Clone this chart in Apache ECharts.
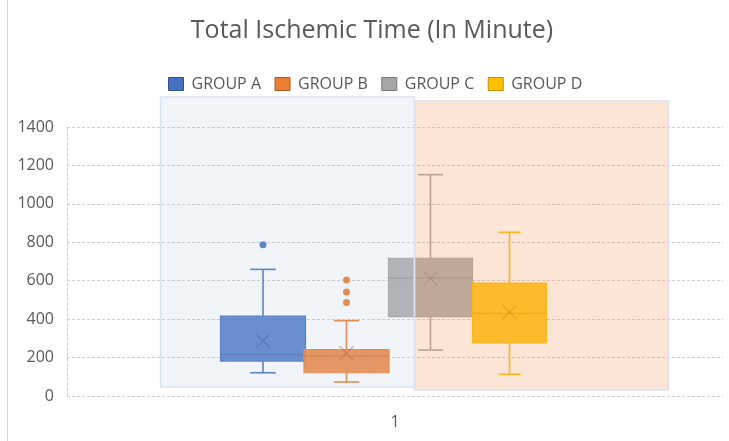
<!DOCTYPE html>
<html><head><meta charset="utf-8">
<script src="https://cdn.jsdelivr.net/npm/echarts@6/dist/echarts.min.js"></script>
<style>html,body{margin:0;padding:0;background:#fff}#chart{width:729px;height:441px}</style>
</head><body><div id="chart"></div>
<script>
// ---- data ----
const categories = ['1'];
const groupNames = ['GROUP A', 'GROUP B', 'GROUP C', 'GROUP D'];
// [lower whisker, Q1, median, Q3, upper whisker]
const groupA = [121, 182, 215, 416, 659];
const groupB = [73, 121, 208, 241, 392];
const groupC = [239, 413, 614, 717, 1152];
const groupD = [113, 277, 430, 588, 852];
const meanValues = [288, 224, 612, 436];
const outliersA = [787];
const outliersB = [486, 541, 604];
const outliersC = [];
const outliersD = [];
const yTicks = [0, 200, 400, 600, 800, 1000, 1200, 1400];

// ---- styles / layout ----
const seriesColors = ['#4472C4', '#ED7D31', '#A5A5A5', '#FFC000'];
const legendBorders = ['#2F528F', '#AE5A21', '#787878', '#BC8C00'];
const slotOffset = [-132, -48.5, 35.5, 114.5];
const slotWidth = [85, 85, 84, 74];
const textColor = '#595959';
const fontFamily = '"Open Sans", "Noto Sans", sans-serif';

const groups = [groupA, groupB, groupC, groupD];
const outliers = [outliersA, outliersB, outliersC, outliersD];

function renderBox(idx) {
  return function (params, api) {
    const color = seriesColors[idx];
    const dark = legendBorders[idx];
    const cat = api.value(0);
    const cx = api.coord([cat, 0])[0] + slotOffset[idx];
    const w = slotWidth[idx];
    const capW = w * 0.3;
    const Y = v => api.coord([cat, v])[1];
    const lo = Y(api.value(1)), q1 = Y(api.value(2)), md = Y(api.value(3)),
          q3 = Y(api.value(4)), hi = Y(api.value(5)), mean = Y(api.value(6));
    const ls = { stroke: color, lineWidth: 1.6, fill: null };
    const ms = { stroke: dark, strokeOpacity: 0.45, lineWidth: 1.5 };
    const xs = 7;
    const children = [
      { type: 'line', shape: { x1: cx, y1: hi, x2: cx, y2: q3 }, style: ls },
      { type: 'line', shape: { x1: cx, y1: q1, x2: cx, y2: lo }, style: ls },
      { type: 'line', shape: { x1: cx - capW / 2, y1: hi, x2: cx + capW / 2, y2: hi }, style: ls },
      { type: 'line', shape: { x1: cx - capW / 2, y1: lo, x2: cx + capW / 2, y2: lo }, style: ls },
      { type: 'rect', shape: { x: cx - w / 2, y: q3, width: w, height: q1 - q3 },
        style: { fill: color, fillOpacity: 0.9, stroke: color, lineWidth: 1.2 } },
      { type: 'line', shape: { x1: cx - w / 2, y1: md, x2: cx + w / 2, y2: md }, style: { stroke: dark, strokeOpacity: 0.35, lineWidth: 1.4 } },
      { type: 'line', shape: { x1: cx - xs, y1: mean - xs, x2: cx + xs, y2: mean + xs }, style: ms },
      { type: 'line', shape: { x1: cx - xs, y1: mean + xs, x2: cx + xs, y2: mean - xs }, style: ms }
    ];
    outliers[idx].forEach(v => {
      children.push({ type: 'circle', shape: { cx: cx, cy: Y(v), r: 3.5 }, style: { fill: color, stroke: null } });
    });
    return { type: 'group', children: children };
  };
}

const chart = echarts.init(document.getElementById('chart'), null, { renderer: 'canvas' });
chart.setOption({
  animation: false,
  backgroundColor: '#ffffff',
  title: {
    text: 'Total Ischemic Time (In Minute)',
    left: 367, top: 13, textAlign: 'center',
    textStyle: { color: textColor, fontSize: 25, fontWeight: 'normal', fontFamily: fontFamily }
  },
  legend: {
    left: 168, top: 76, padding: 0,
    itemWidth: 15, itemHeight: 13, itemGap: 13.5,
    icon: 'rect',
    textStyle: { color: textColor, fontSize: 16, fontFamily: fontFamily, padding: [0, 0, 0, 3] },
    data: groupNames.map((n, i) => ({ name: n, itemStyle: { color: seriesColors[i], borderColor: legendBorders[i], borderWidth: 1 } }))
  },
  grid: { left: 67, right: 6, top: 127, bottom: 45, containLabel: false, outerBoundsMode: 'none' },
  xAxis: {
    type: 'category', data: categories,
    axisLine: { show: false }, axisTick: { show: false },
    axisLabel: { color: textColor, fontSize: 16, fontFamily: fontFamily, margin: 18 },
    splitLine: { show: false }
  },
  yAxis: {
    type: 'value', min: yTicks[0], max: yTicks[yTicks.length - 1], interval: yTicks[1] - yTicks[0],
    axisLine: { show: true, lineStyle: { color: '#d0d0d0', type: [3, 2], width: 1 } },
    axisTick: { show: false },
    axisLabel: { color: textColor, fontSize: 16, fontFamily: fontFamily, margin: 13, formatter: v => String(v) },
    splitLine: { show: true, lineStyle: { color: '#cccccc', type: [3, 2], width: 1 } }
  },
  series: groups.map((g, i) => ({
    name: groupNames[i],
    type: 'custom',
    renderItem: renderBox(i),
    itemStyle: { color: seriesColors[i], borderColor: legendBorders[i], borderWidth: 1 },
    encode: { x: 0, y: [1, 2, 3, 4, 5, 6] },
    data: [[0].concat(g, [meanValues[i]])],
    z: 2
  })),
  graphic: [
    { type: 'line', shape: { x1: 7.5, y1: 0, x2: 7.5, y2: 441 }, style: { stroke: '#d9d9d9', lineWidth: 1 }, z: 100 },
    { type: 'rect', shape: { x: 160.5, y: 97, width: 254, height: 290 },
      style: { fill: 'rgba(187,203,229,0.2)', stroke: '#dae3f3', lineWidth: 1.5 }, z: 100 },
    { type: 'rect', shape: { x: 414.5, y: 101, width: 254, height: 289 },
      style: { fill: 'rgba(240,157,100,0.265)', stroke: '#dae3f3', lineWidth: 1.5 }, z: 100 }
  ]
});
</script>
</body></html>
